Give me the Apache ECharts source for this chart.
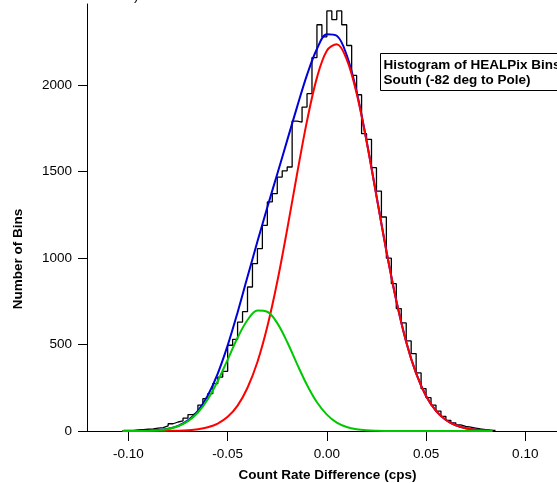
<!DOCTYPE html>
<html>
<head>
<meta charset="utf-8">
<script src="https://cdn.jsdelivr.net/npm/echarts@6/dist/echarts.min.js"></script>
<style>
html,body{margin:0;padding:0;background:#fff;}
#chart{width:557px;height:483px;}
</style>
</head>
<body>
<div id="chart"></div>
<script>
// ---- data ----
const binStart = -0.1025;
const binWidth = 0.0025;
const histCounts = [
  3, 4, 6, 8, 10, 12, 17, 20, 30, 42,
  52, 58, 75, 95, 105, 150, 187, 216, 274, 312,
  345, 496, 530, 630, 690, 833, 968, 1055, 1190, 1325,
  1373, 1469, 1505, 1527, 1793, 1787, 1874, 1951, 2160, 2350,
  2280, 2430, 2380, 2430, 2350, 2230, 2057, 1945, 1720, 1687,
  1523, 1388, 1238, 1000, 852, 708, 625, 521, 448, 336,
  245, 193, 150, 115, 85, 62, 47, 35, 27, 22,
  17, 12, 8, 5, 3
];
const curveX = [-0.103, -0.1, -0.095, -0.09, -0.085, -0.08, -0.075, -0.07, -0.065, -0.06,
  -0.055, -0.05, -0.045, -0.04, -0.035, -0.03, -0.025, -0.02, -0.015, -0.01,
  -0.005, 0, 0.005, 0.01, 0.015, 0.02, 0.025, 0.03, 0.035, 0.04,
  0.045, 0.05, 0.055, 0.06, 0.065, 0.07, 0.075, 0.08, 0.0835];
const fitTotal = [0.1, 0.2, 0.6, 1.9, 5.2, 12.9, 29.4, 61.4, 117, 206,
  332, 495, 686, 892, 1096, 1294, 1487, 1681, 1875, 2060,
  2210, 2295, 2286, 2174, 1963, 1680, 1361, 1042, 754, 515,
  333, 203, 117, 64, 33, 16, 7.4, 3.2, 1.7];
const fitMain = [0, 0, 0.03, 0.1, 0.28, 0.75, 1.9, 4.5, 10, 21.5,
  43, 82, 147, 250, 399, 604, 863, 1166, 1488, 1794,
  2044, 2200, 2237, 2150, 1953, 1676, 1359, 1041, 754, 515,
  333, 203, 117, 64, 33, 16, 7.4, 3.2, 1.7];
const fitSecond = [0.09, 0.18, 0.6, 1.8, 4.9, 12.1, 27.5, 56.9, 107, 184,
  289, 413, 539, 642, 697, 690, 624, 515, 387, 266,
  166, 95, 49, 23.5, 10.2, 4.0, 1.5, 0.5, 0.14, 0,
  0, 0, 0, 0, 0, 0, 0, 0, 0];
const xTicks = [-0.1, -0.05, 0, 0.05, 0.1];
const yTicks = [0, 500, 1000, 1500, 2000];
const xTitle = 'Count Rate Difference (cps)';
const yTitle = 'Number of Bins';
const noteLines = ['Histogram of HEALPix Bins', 'South (-82 deg to Pole)'];

// ---- build series data ----
const histData = histCounts.map((c, i) => [binStart + i * binWidth, c]);
histData.push([binStart + histCounts.length * binWidth, histCounts[histCounts.length - 1]]);
const pair = arr => curveX.map((x, i) => [x, arr[i]]);

const FONT = "'Liberation Sans', Arial, Helvetica, sans-serif";
const chart = echarts.init(document.getElementById('chart'), null, {renderer: 'canvas'});
const lineBase = {type: 'line', showSymbol: false, symbol: 'none', smooth: 0.35, animation: false, silent: true};

chart.setOption({
  animation: false,
  backgroundColor: '#ffffff',
  grid: {left: 87, right: 0, top: 4, bottom: 52, containLabel: false},
  xAxis: {
    type: 'value', min: -0.1209, max: 0.116,
    splitLine: {show: false},
    axisLine: {show: true, onZero: false, lineStyle: {color: '#000', width: 1}},
    axisTick: {show: true, length: 10, customValues: xTicks, lineStyle: {color: '#000', width: 1}},
    axisLabel: {customValues: xTicks, margin: 16, color: '#000', fontFamily: FONT, fontSize: 13.5,
      formatter: v => v.toFixed(2)}
  },
  yAxis: {
    type: 'value', min: 0, max: 2470,
    splitLine: {show: false},
    axisLine: {show: true, onZero: false, lineStyle: {color: '#000', width: 1}},
    axisTick: {show: true, length: 9, customValues: yTicks, lineStyle: {color: '#000', width: 1}},
    axisLabel: {customValues: yTicks, margin: 15, color: '#000', fontFamily: FONT, fontSize: 13.5,
      formatter: v => String(Math.round(v))}
  },
  series: [
    {type: 'line', data: histData, step: 'end', showSymbol: false, symbol: 'none', animation: false, silent: true,
      lineStyle: {color: '#000', width: 1.3}},
    Object.assign({}, lineBase, {data: pair(fitTotal), lineStyle: {color: '#0000d8', width: 2}}),
    Object.assign({}, lineBase, {data: pair(fitMain), lineStyle: {color: '#ff0000', width: 2}}),
    Object.assign({}, lineBase, {data: pair(fitSecond), lineStyle: {color: '#00c800', width: 2}})
  ],
  graphic: [
    {type: 'text', x: 18, y: 259, rotation: Math.PI / 2, silent: true,
      style: {text: yTitle, font: 'bold 13.5px ' + FONT, fill: '#000', textAlign: 'center', textVerticalAlign: 'middle'}},
    {type: 'text', x: 327.5, y: 475, silent: true,
      style: {text: xTitle, font: 'bold 13.5px ' + FONT, fill: '#000', textAlign: 'center', textVerticalAlign: 'middle'}},
    {type: 'text', x: 134, y: -11, silent: true,
      style: {text: ')', font: '13.5px ' + FONT, fill: '#000', textAlign: 'left', textVerticalAlign: 'top'}},
    {type: 'rect', shape: {x: 380.5, y: 53.5, width: 200, height: 37}, silent: true,
      style: {fill: '#fff', stroke: '#000', lineWidth: 1}},
    {type: 'text', x: 383.5, y: 65.5, silent: true,
      style: {text: noteLines[0], font: 'bold 13.5px ' + FONT, fill: '#000', textAlign: 'left', textVerticalAlign: 'middle'}},
    {type: 'text', x: 383.5, y: 80.5, silent: true,
      style: {text: noteLines[1], font: 'bold 13.5px ' + FONT, fill: '#000', textAlign: 'left', textVerticalAlign: 'middle'}}
  ]
});
</script>
</body>
</html>
